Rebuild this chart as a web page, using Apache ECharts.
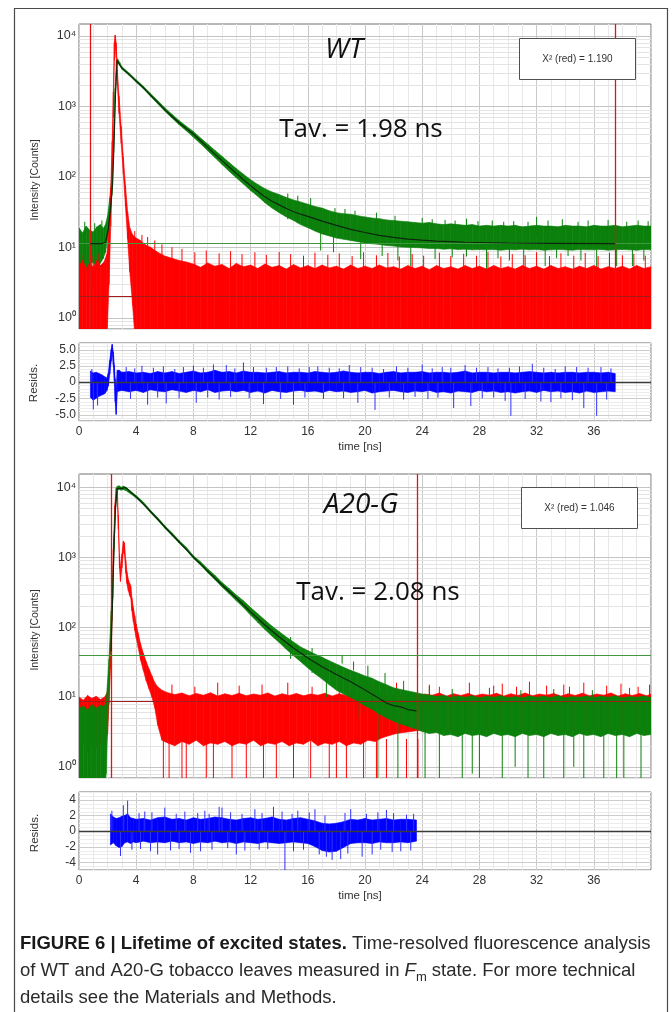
<!DOCTYPE html>
<html><head><meta charset="utf-8">
<script src="https://cdn.jsdelivr.net/npm/echarts@6/dist/echarts.min.js"></script>
<style>html,body{margin:0;padding:0;background:#fff}#c{width:672px;height:1012px}</style>
</head><body><div id="c"></div>
<script>
// ---------------- data (counts / residuals) ----------------
const xTicks = [0, 4, 8, 12, 16, 20, 24, 28, 32, 36];
const logTicks = [0, 1, 2, 3, 4];              // decades 10^0 .. 10^4
const minorFactors = [2, 3, 4, 5, 6, 7, 8, 9];
const res1Ticks = [-5, -2.5, 0, 2.5, 5];
const res2Ticks = [-4, -2, 0, 2, 4];

// WT: fitted decay [t (ns), counts]
const wtFit = [[0.77,11.3],[1.6,11.3],[1.85,11.8],[2.05,18],[2.2,35],[2.35,80],[2.45,300],[2.55,1500],[2.67,4500],[2.8,4000],[3.0,3500],[3.5,2850],[4,2290],[4.5,1850],[5,1450],[5.5,1140],[6,900],[6.5,720],[7,585],[7.5,485],[8,405],[8.5,325],[9,262],[9.5,210],[10,170],[10.5,138],[11,112],[11.5,91],[12,75],[12.5,62],[13,52],[13.5,45],[14,40],[14.5,35.5],[15,32],[15.5,29.5],[16,27.5],[17,23.5],[18,20.5],[19,18],[20,16.2],[21,14.8],[22,13.8],[23,13.1],[24,12.6],[25,12.2],[26,12],[27,11.8],[28,11.7],[30,11.5],[33,11.4],[37.5,11.3]];
// WT: measured decay, noise envelope [t, low, high]
const wtGreen = [[0.0,5.2,19],[0.25,6.5,16],[0.5,4.6,20],[0.75,5.8,17.5],[1.0,6.2,16.5],[1.25,4.8,19.5],[1.5,6,21],[1.7,7,18.5],[1.85,8.5,21],[2.0,13,28],[2.15,24,50],[2.3,55,105],[2.42,220,420],[2.52,1100,1800],[2.62,3600,4500],[2.7,4300,4750],[2.85,3850,4200],[3.0,3380,3650],[3.5,2760,2990],[4.0,2200,2390],[4.5,1780,1940],[5.0,1390,1530],[5.5,1090,1210],[6.0,855,960],[6.5,685,775],[7.0,550,630],[7.5,452,525],[8.0,365,440],[8.5,295,357],[9.0,235,292],[9.5,188,238],[10.0,150,196],[10.5,120,160],[11.0,97,131],[11.5,79,109],[12.0,64,91],[12.5,53,78],[13.0,43,68],[13.5,36,61],[14.0,31,56],[14.5,27,51],[15.0,24,47],[15.5,21,44],[16.0,19,41],[16.5,17,38],[17.0,15.5,36],[17.5,14.5,33],[18.0,13.5,31],[18.5,13,30],[19.0,12.5,29.5],[19.5,12,28],[20.0,11.5,27],[20.5,11.2,26],[21.0,11,25.5],[21.5,10.6,24.5],[22.0,10.4,24],[22.5,10.1,23.5],[23.0,10,23],[23.5,9.9,22.5],[24.0,9.8,22],[24.5,9.6,22.5],[25.0,9.6,21.5],[25.5,9.4,21],[26.0,9.5,21.5],[26.5,9.3,21],[27.0,9.4,20.5],[27.5,9.2,21],[28.0,9.3,20],[28.5,9.2,20.5],[29.0,9.3,20],[29.5,9.1,20.5],[30.0,9.3,20],[30.5,9.2,20.5],[31.0,9.4,19.5],[31.5,9.2,20],[32.0,9.3,20.5],[32.5,9.1,20],[33.0,9.2,20],[33.5,9.3,19.5],[34.0,9.2,20.5],[34.5,9.1,20],[35.0,9.3,20],[35.5,9.2,19.5],[36.0,9.2,20.5],[36.5,9.3,20],[37.0,9.1,20],[37.5,9.2,20.5],[38.0,9.3,19.5],[38.5,9.2,20],[39.0,9.1,20.5],[39.5,9.3,20],[40.0,9.2,20]];
const wtGreenSpikes = [[0.2,3.5,6.5],[0.4,10,23],[0.7,3,6],[1.0,2.5,7],[1.1,10,22],[1.4,3.2,6],[1.6,10,24],[14.6,25,58],[15.3,22,54],[16.2,20,50],[16.9,9,16],[17.8,8.5,15],[17.9,20,36],[18.6,20,35],[19.3,18,33],[19.7,6.8,13],[20.8,18,31],[21.2,7.5,12],[22.1,16,28],[22.3,6.5,12],[23.2,5.4,11],[24.0,16,26],[24.7,15,25],[24.9,6.8,11],[25.6,15,24.5],[26.1,7.2,10.5],[26.3,15,24],[27.1,7.4,25.5],[27.9,14,23.5],[28.5,2.3,10],[28.9,14,24],[29.3,7,10],[29.7,14,23],[30.1,6.5,10],[30.4,14,23.5],[31.1,2.3,10],[31.4,14,23],[32.0,14,27],[32.6,5.4,10],[32.8,14,24],[33.4,7,10],[33.8,14,25],[34.2,7.5,10],[34.9,14,23],[35.1,6.5,10],[35.6,14,24],[36.2,4.4,10],[37.0,14,24.5],[37.6,5.4,10],[38.3,14,23],[38.7,5.4,10],[39.1,14,24],[39.5,6.5,10],[39.8,14,23.5]];
// WT: instrument response (red)
const wtRed = [[0.0,0,5.5],[0.25,0,6.5],[0.5,0,5],[0.75,0,6],[1.0,0,5.2],[1.25,0,6.5],[1.5,0,5.5],[1.75,0,6.2],[1.95,0.5,8],[2.1,3,18],[2.22,20,70],[2.32,110,320],[2.4,700,1600],[2.47,4500,8000],[2.53,7500,10300],[2.6,5000,8000],[2.68,2000,3300],[2.8,800,1400],[2.95,300,520],[3.1,110,190],[3.25,38,75],[3.4,13,32],[3.55,4.5,19],[3.75,1.5,15],[4.0,0,13.5],[4.3,0,12.5],[4.6,0,11],[5.0,0,10],[5.5,0,8.5],[6.0,0,7.5],[6.5,0,7],[7.0,0,6.5],[7.5,0,6.2],[8.0,0,5.8],[8.5,0,5.2],[9.0,0,6.0],[9.5,0,5.4],[10.0,0,5.7],[10.5,0,5.0],[11.0,0,5.9],[11.5,0,5.3],[12.0,0,5.6],[12.5,0,5.0],[13.0,0,5.8],[13.5,0,5.2],[14.0,0,5.5],[14.5,0,4.9],[15.0,0,5.7],[15.5,0,5.1],[16.0,0,5.5],[16.5,0,5.0],[17.0,0,5.6],[17.5,0,5.1],[18.0,0,5.4],[18.5,0,4.9],[19.0,0,5.6],[19.5,0,5.0],[20.0,0,5.4],[20.5,0,5.0],[21.0,0,5.6],[21.5,0,5.1],[22.0,0,5.3],[22.5,0,4.9],[23.0,0,5.5],[23.5,0,5.0],[24.0,0,5.4],[24.5,0,4.8],[25.0,0,5.5],[25.5,0,5.0],[26.0,0,5.3],[26.5,0,4.9],[27.0,0,5.5],[27.5,0,5.0],[28.0,0,5.4],[28.5,0,4.9],[29.0,0,5.5],[29.5,0,5.0],[30.0,0,5.3],[30.5,0,4.9],[31.0,0,5.5],[31.5,0,5.0],[32.0,0,5.4],[32.5,0,4.9],[33.0,0,5.5],[33.5,0,5.0],[34.0,0,5.3],[34.5,0,4.9],[35.0,0,5.4],[35.5,0,5.0],[36.0,0,5.5],[36.5,0,4.9],[37.0,0,5.3],[37.5,0,5.0],[38.0,0,5.4],[38.5,0,4.9],[39.0,0,5.5],[39.5,0,5.0],[40.0,0,5.3]];
const wtRedSpikes = [[0.3,4,8],[0.9,4,7.5],[1.4,4,8.2],[3.9,5,17],[4.4,5,15],[4.8,5,14],[5.3,5,12.5],[5.8,5,11],[6.5,5,10],[7.2,5,9.5],[8.1,5,8.5],[8.9,5,9],[9.8,5,8.2],[10.6,5,8.8],[11.4,5,8],[12.3,5,8.5],[13.1,5,7.8],[14,5,8.6],[14.8,5,8],[15.7,5,7.6],[16.5,5,8.4],[17.4,5,7.8],[18.2,5,8.2],[19.1,5,7.5],[19.9,5,8.5],[20.8,5,7.7],[21.6,5,8.3],[22.4,5,7.4],[23.3,5,8],[24.1,5,7.6],[25.2,5,8.4],[26,5,7.5],[26.9,5,8.1],[27.8,5,7.6],[28.6,5,8.6],[29.5,5,7.4],[30.3,5,8],[31.2,5,7.7],[32,5,8.5],[32.9,5,7.5],[33.7,5,8.2],[34.6,5,7.6],[35.4,5,8.3],[36.3,5,7.5],[37.1,5,8.4],[38,5,7.7],[38.8,5,8.1],[39.6,5,7.6]];
// WT residuals [t, low, high]
const wtRes = [[0.8,-2.4,1.7],[1.0,-2.8,1.4],[1.2,-2.5,1.5],[1.4,-2.2,1.3],[1.6,-2.0,1.1],[1.8,-1.8,0.8],[1.95,-1.3,0.6],[2.05,-0.6,1.4],[2.15,1.2,3.3],[2.25,3.2,5.0],[2.32,4.6,5.8],[2.4,2.6,4.6],[2.47,0.2,2.6],[2.53,-3.0,0.5],[2.6,-5.0,-1.0],[2.68,-1.5,1.8],[2.8,-1.4,1.8],[3.0,-1.3,1.5],[3.5,-1.5,1.6],[4.0,-1.3,1.4],[4.5,-1.6,1.5],[5.0,-1.2,1.3],[5.5,-1.4,1.6],[6.0,-1.5,1.4],[6.5,-1.2,1.6],[7.0,-1.4,1.3],[7.5,-1.6,1.5],[8.0,-1.3,1.7],[8.5,-1.5,1.4],[9.0,-1.2,1.5],[9.5,-1.6,1.8],[10.0,-1.4,1.5],[10.5,-1.3,1.6],[11.0,-1.5,1.4],[11.5,-1.3,1.7],[12.0,-1.6,1.5],[12.5,-1.4,1.5],[13.0,-1.7,1.4],[13.5,-1.3,1.5],[14.0,-1.5,1.6],[14.5,-1.6,1.4],[15.0,-1.4,1.5],[15.5,-1.3,1.5],[16.0,-1.5,1.4],[16.5,-1.4,1.6],[17.0,-1.6,1.5],[17.5,-1.3,1.4],[18.0,-1.5,1.5],[18.5,-1.4,1.7],[19.0,-1.6,1.5],[19.5,-1.5,1.4],[20.0,-1.3,1.5],[20.5,-1.7,1.5],[21.0,-1.5,1.3],[21.5,-1.4,1.5],[22.0,-1.3,1.6],[22.5,-1.5,1.4],[23.0,-1.6,1.5],[23.5,-1.4,1.5],[24.0,-1.5,1.6],[24.5,-1.3,1.4],[25.0,-1.6,1.5],[25.5,-1.5,1.5],[26.0,-1.7,1.4],[26.5,-1.4,1.5],[27.0,-1.5,1.7],[27.5,-1.6,1.4],[28.0,-1.3,1.5],[28.5,-1.5,1.5],[29.0,-1.4,1.4],[29.5,-1.6,1.5],[30.0,-1.5,1.5],[30.5,-1.7,1.4],[31.0,-1.5,1.5],[31.5,-1.4,1.6],[32.0,-1.6,1.5],[32.5,-1.3,1.4],[33.0,-1.5,1.5],[33.5,-1.4,1.4],[34.0,-1.6,1.5],[34.5,-1.5,1.5],[35.0,-1.7,1.4],[35.5,-1.4,1.5],[36.0,-1.6,1.5],[36.5,-1.5,1.4],[37.0,-1.4,1.5],[37.5,-1.5,1.3]];
const wtResSpikes = [[1.0,-4.2,0],[1.3,-3.6,0],[0.9,0,2.0],[3.3,0,2.3],[3.6,-2.6,0],[3.9,0,2.1],[4.4,0,2.5],[4.8,-3.5,0],[5.2,0,2.2],[5.5,-2.4,0],[5.9,0,2.4],[6.1,-3.3,0],[6.7,0,2.0],[7.0,-2.5,0],[7.3,0,2.3],[8.0,0,2.5],[8.2,-3.2,0],[8.7,0,2.2],[9.0,-2.4,0],[9.4,0,2.7],[9.8,-2.7,0],[10.3,0,2.6],[10.6,-2.3,0],[10.9,0,2.1],[11.5,0,3.0],[11.9,-2.5,0],[12.2,0,2.3],[12.9,-3.4,0],[13.1,0,2.2],[13.8,0,2.3],[14.1,-2.6,0],[14.6,0,2.4],[15.0,-3.5,0],[15.4,0,2.1],[15.8,-2.4,0],[16.1,0,2.3],[16.7,0,2.4],[17.1,-2.6,0],[17.5,0,2.2],[18.2,0,2.1],[18.5,-2.5,0],[18.9,0,2.6],[19.5,-3.2,0],[19.7,0,2.3],[20.5,0,2.2],[20.7,-4.3,0],[21.3,0,2.0],[21.7,-2.4,0],[22.2,0,2.4],[22.7,-2.7,0],[23.0,0,2.2],[23.5,-2.3,0],[24.0,0,2.7],[24.4,-2.6,0],[24.7,0,2.1],[25.1,-2.4,0],[25.4,0,2.3],[26.0,0,2.2],[26.2,-4.0,0],[27.0,0,2.6],[27.4,-3.7,0],[27.8,0,2.2],[28.2,-2.5,0],[28.6,0,2.3],[29.0,-2.4,0],[29.3,0,2.1],[29.8,-2.9,0],[30.1,0,2.2],[30.2,-5.2,0],[30.8,0,2.4],[31.2,-2.6,0],[31.7,0,2.8],[32.3,-3.0,0],[32.5,0,2.2],[33.0,-3.1,0],[33.3,0,2.0],[33.7,-2.5,0],[34.0,0,2.4],[34.5,-2.8,0],[34.8,0,2.3],[35.3,-4.0,0],[35.6,0,2.2],[36.2,-5.2,0],[36.5,0,2.3],[36.9,-2.7,0],[37.2,0,2.1]];

// A20-G
const a20Fit = [[2.24,45],[2.36,300],[2.45,1500],[2.55,5000],[2.66,9500],[2.75,10000],[2.9,9700],[3.05,9600],[3.2,10000],[3.35,9600],[4,7300],[5,4500],[6,2700],[7,1650],[8,1000],[9,630],[10,400],[11,260],[12,165],[13,107],[14,72],[15,50],[16,36],[17,27],[18,21],[19,16.5],[20,12.6],[21,9.5],[21.5,8.2],[22,7.5],[22.5,7.2],[23,6.6],[23.6,6.3]];
const a20Green = [[0,0,6.8],[0.3,0,7.5],[0.6,0,6.5],[0.9,0,7.8],[1.2,0,6.9],[1.5,0,7.6],[1.75,0,7.2],[1.9,0.8,8.5],[2.1,16,35],[2.25,90,170],[2.36,260,400],[2.45,1300,1900],[2.55,4600,6000],[2.66,9000,10300],[2.8,9400,10500],[2.95,9100,10000],[3.1,9300,10400],[3.3,8900,9900],[3.6,8100,8800],[4.0,7000,7600],[4.5,5700,6150],[5.0,4330,4680],[5.5,3400,3680],[6.0,2600,2820],[6.5,2050,2240],[7.0,1590,1730],[7.5,1270,1390],[8.0,960,1050],[8.5,775,860],[9.0,600,680],[9.5,478,552],[10.0,375,435],[10.5,300,355],[11.0,238,287],[11.5,190,238],[12.0,148,190],[12.5,117,155],[13.0,92,126],[13.5,74,103],[14.0,60,86],[14.5,48,72],[15.0,39,61],[15.5,32,52],[16.0,26,46],[16.5,21.5,41],[17.0,18,37],[17.5,15,33],[18.0,12.5,29.5],[18.5,11,26.5],[19.0,9.8,24],[19.5,8.6,22],[20.0,7.5,20],[20.5,6.6,18.5],[21.0,5.7,16.5],[21.5,5,15],[22.0,4.5,13.5],[22.5,4.1,12.8],[23.0,3.8,12.2],[23.5,3.5,11.6],[24.0,3.2,11],[24.5,3,10.6],[25,3.1,10.2],[25.5,2.8,10.5],[26,2.9,9.8],[26.5,2.7,10.3],[27,3,9.9],[27.5,2.8,10.4],[28,2.9,9.7],[28.5,2.7,10.2],[29,3,9.9],[29.5,2.8,10.4],[30,2.9,9.8],[30.5,2.7,10.1],[31,3,9.7],[31.5,2.8,10.3],[32,2.9,9.9],[32.5,2.7,10.2],[33,3,9.8],[33.5,2.8,10.4],[34,2.9,9.7],[34.5,2.7,10.1],[35,3,9.9],[35.5,2.8,10.3],[36,2.9,9.8],[36.5,2.7,10.2],[37,3,9.9],[37.5,2.8,10.4],[38,2.9,9.7],[38.5,2.7,10.1],[39,3,9.9],[39.5,2.8,10.3],[40,2.9,9.8]];
const a20GreenSpikes = [[0.15,0,1],[0.45,0,1],[0.8,0,1],[1.3,0,1],[1.6,0,1],[14.8,35,72],[16.3,22,50],[17.3,10,20],[18.4,30,40],[19.2,24,32],[19.6,5,10],[20.2,19,28],[20.9,0,6],[21.4,15,22],[22.3,0,4.5],[22.7,12,17],[24.2,0,3.2],[24.5,10,14],[25.2,0,3.1],[26.1,10,13],[26.8,0,3],[27.5,0.8,3],[28,0,3],[28.7,10,13.5],[29.6,0,3],[30.5,1,3],[30.9,10,12.5],[31.4,0,3],[32.5,0,3],[33.2,10,13],[33.9,0,3],[34.6,1,3],[35.3,0,3],[35.9,10,12.5],[36.7,0,3],[37.6,0,3],[38.1,0,3],[38.5,10,13.5],[39.3,0,3]];
const a20Red = [[0,1.9,10],[0.3,2.2,9],[0.6,1.6,10.5],[0.9,2.1,9.5],[1.2,1.8,10.2],[1.5,2.2,9.2],[1.8,2.1,10],[2.0,3,12],[2.1,8,22],[2.2,25,60],[2.3,120,250],[2.4,700,1300],[2.5,3500,5500],[2.6,7500,9800],[2.68,6500,9000],[2.75,2500,4000],[2.83,700,1100],[2.9,450,700],[3.0,700,1100],[3.1,1200,1700],[3.18,1100,1600],[3.27,600,900],[3.35,420,620],[3.45,330,480],[3.55,280,420],[3.62,260,380],[3.7,170,260],[3.8,120,190],[3.9,90,145],[4.0,70,110],[4.15,50,80],[4.3,34,58],[4.5,24,42],[4.7,17,32],[4.9,13,25],[5.1,10,20],[5.3,7,16],[5.5,4,14],[5.8,2.4,12.5],[6.2,2.2,11.5],[6.7,2.0,10.8],[7.2,2.3,11.4],[7.7,2.1,10.4],[8.2,2.4,11.2],[8.7,2.0,10.6],[9.2,2.2,11.5],[9.7,2.1,10.3],[10.2,2.3,11.1],[10.7,2.0,10.5],[11.2,2.2,11.3],[11.7,2.1,10.4],[12.2,2.4,11],[12.7,2.0,10.6],[13.2,2.2,11.4],[13.7,2.1,10.3],[14.2,2.3,11.1],[14.7,2.0,10.5],[15.2,2.2,11.2],[15.7,2.1,10.4],[16.2,2.4,11],[16.7,2.0,10.6],[17.2,2.2,11.3],[17.7,2.1,10.3],[18.2,2.3,11.1],[18.7,2.0,10.5],[19.2,2.2,11.4],[19.7,2.1,10.4],[20.2,2.4,11],[20.7,2.3,10.6],[21.2,2.6,11.2],[21.7,2.8,10.3],[22.2,3.0,11.1],[22.7,3.1,10.5],[23.2,3.2,11.3],[23.7,3.3,10.4],[24.2,3.4,11],[24.7,3.3,10.6],[25.2,3.4,11.4],[25.7,3.3,10.3],[26.2,3.4,11.1],[26.7,3.3,10.5],[27.2,3.4,11.2],[27.7,3.3,10.4],[28.2,3.4,11],[28.7,3.3,10.6],[29.2,3.4,11.3],[29.7,3.3,10.3],[30.2,3.4,11.1],[30.7,3.3,10.5],[31.2,3.4,11.4],[31.7,3.3,10.4],[32.2,3.4,11],[32.7,3.3,10.6],[33.2,3.4,11.2],[33.7,3.3,10.3],[34.2,3.4,11.1],[34.7,3.3,10.5],[35.2,3.4,11.3],[35.7,3.3,10.4],[36.2,3.4,11],[36.7,3.3,10.6],[37.2,3.4,11.4],[37.7,3.3,10.3],[38.2,3.4,11.1],[38.7,3.3,10.5],[39.2,3.4,11.2],[39.7,3.3,10.4],[40,3.4,11]];
const a20RedSpikes = [[0.4,0,2],[1.0,0,2],[5.9,0,2.5],[6.3,0,2.5],[6.5,10,15],[7.2,0,2.5],[7.5,0,2.5],[8.1,10,14],[8.9,0,2.5],[9.4,0,2.5],[9.7,10,16],[10.7,0,2.5],[11.2,10,14.5],[11.7,0,2.5],[12.8,10,15],[12.9,0,2.5],[13.8,0,2.5],[14.6,10,16],[15,0,2.5],[16.2,0,2.5],[16.3,10,14],[17.5,0,2.5],[18,0,2.5],[18.2,10,17],[18.7,0,2.5],[19.9,0,2.5],[20.5,10,15],[20.8,0,2.5],[21.5,0,2.5],[22.2,10,16],[22.9,0,2.5],[23.7,0,2.5],[24.5,10,15],[25.2,10,14],[27.3,10,16],[29,10,14.5],[29.6,10,15.5],[30.6,10,14],[31.5,10,16.5],[32.7,10,14.5],[33.9,10,15],[34.3,10,14],[35.3,10,16],[36.9,10,14.5],[37.9,10,15.5],[39.1,10,14],[39.9,10,15]];
const a20Res = [[2.2,-1.8,2.2],[2.4,-1.5,1.8],[2.6,-1.9,1.6],[2.8,-2.1,1.7],[3.0,-2.0,1.9],[3.2,-1.5,2.0],[3.4,-1.4,2.2],[3.6,-1.6,1.7],[3.8,-1.4,1.6],[4.0,-1.5,1.5],[4.5,-1.3,1.6],[5.0,-1.5,1.4],[5.5,-1.4,1.7],[6.0,-1.5,1.8],[6.5,-1.3,1.5],[7.0,-1.5,1.6],[7.5,-1.4,1.4],[8.0,-1.6,1.7],[8.5,-1.4,1.5],[9.0,-1.5,1.6],[9.5,-1.3,1.8],[10.0,-1.5,1.7],[10.5,-1.4,1.5],[11.0,-1.6,1.4],[11.5,-1.4,1.6],[12.0,-1.5,1.7],[12.5,-1.6,1.5],[13.0,-1.4,1.6],[13.5,-1.5,1.8],[14.0,-1.6,1.5],[14.5,-1.5,1.4],[15.0,-1.4,1.6],[15.5,-1.5,1.7],[16.0,-1.6,1.5],[16.5,-2.0,1.3],[17.0,-2.5,1.0],[17.5,-2.7,0.9],[18.0,-2.6,1.0],[18.5,-2.1,1.2],[19.0,-1.6,1.5],[19.5,-1.5,1.4],[20.0,-1.5,1.6],[20.5,-1.6,1.4],[21.0,-1.4,1.5],[21.5,-1.5,1.6],[22.0,-1.5,1.4],[22.5,-1.4,1.5],[23.0,-1.5,1.5],[23.6,-1.3,1.4]];
const a20ResSpikes = [[2.3,0,2.6],[2.9,-3.2,0],[3.1,0,3.3],[3.4,0,3.9],[3.7,-2.4,0],[4.2,0,2.3],[4.3,-2.3,0],[4.6,0,2.5],[5.0,-2.6,0],[5.1,0,2.4],[5.5,-3.0,0],[6.0,0,3.0],[6.4,-2.5,0],[6.8,0,2.2],[7.0,-2.3,0],[7.4,0,2.5],[7.8,-2.8,0],[8.3,0,2.3],[8.5,-2.6,0],[8.8,0,2.6],[9.1,0,2.2],[9.3,-2.4,0],[9.8,0,3.1],[10.0,0,3.0],[10.4,-2.2,0],[10.6,0,2.4],[11.0,-3.0,0],[11.4,0,2.2],[11.6,-2.5,0],[12.3,0,2.8],[12.6,-2.4,0],[12.8,0,2.3],[13.2,-2.3,0],[13.6,0,3.1],[14.2,0,2.5],[14.4,-5.2,0],[14.9,0,2.2],[15.0,-2.6,0],[15.3,0,2.6],[15.7,-2.4,0],[16.1,0,2.4],[16.5,0,2.8],[16.8,-3.0,0],[17.2,0,2.0],[17.3,-3.3,0],[17.7,-3.7,0],[18.3,-3.6,0],[18.6,0,2.3],[18.8,-2.9,0],[19.0,0,2.8],[19.8,-3.3,0],[20.1,0,2.2],[20.5,-3.0,0],[20.9,0,2.4],[21.1,-2.4,0],[21.5,0,2.7],[21.9,-2.7,0],[22.0,0,2.3],[22.5,-2.6,0],[22.9,0,2.1],[23.2,-2.5,0],[23.4,0,2.2]];

// fit windows / reference levels
const wtWindow = [0.77, 37.5];
const wtLevels = { green: 11.4, red: 2.0 };
const a20Window = [2.24, 23.66];
const a20Levels = { green: 39.6, red: 8.8 };

// ---------------- chart ----------------
const FF = '"Liberation Sans", Arial, Helvetica, sans-serif';
const FLOOR = 0.3;
const lg = v => Math.log10(Math.max(v, FLOOR));
const logBand = a => a.map(r => [r[0], lg(r[1]), lg(r[2])]);
const logLine = a => a.map(r => [r[0], lg(r[1])]);
const LOGMIN = -0.16, LOGMAX1 = 4.17, LOGMAX2 = 4.19;

const GREEN = '#0b800b', RED = '#ff0000', BLUE = '#0000ff', FITC = '#0d260d';
const WINDOW_RED = '#e01414', LEVEL_GREEN = '#3f983f', LEVEL_RED = '#a31c1c';

function band(data, ax, color, z) {
  return { type: 'custom', xAxisIndex: ax, yAxisIndex: ax, z, clip: true, silent: true,
    encode: { x: 0, y: [1, 2] }, data,
    renderItem(params, api) {
      const i = params.dataIndexInside;
      if (i >= params.dataInsideLength - 1) return null;
      const p = [api.coord([api.value(0, i), api.value(1, i)]), api.coord([api.value(0, i), api.value(2, i)]),
                 api.coord([api.value(0, i + 1), api.value(2, i + 1)]), api.coord([api.value(0, i + 1), api.value(1, i + 1)])];
      return { type: 'polygon', shape: { points: p }, style: { fill: color, stroke: color, lineWidth: 0.6 } };
    } };
}
function spikes(data, ax, color, z, w) {
  return { type: 'custom', xAxisIndex: ax, yAxisIndex: ax, z, clip: true, silent: true,
    encode: { x: 0, y: [1, 2] }, data,
    renderItem(params, api) {
      const a = api.coord([api.value(0), api.value(1)]), b = api.coord([api.value(0), api.value(2)]);
      return { type: 'line', shape: { x1: a[0], y1: a[1], x2: b[0], y2: b[1] }, style: { stroke: color, lineWidth: w } };
    } };
}
function hLines(values, ax, color, w, z) {
  return { type: 'custom', xAxisIndex: ax, yAxisIndex: ax, z, silent: true,
    encode: { x: 0, y: 1 }, data: values.map(v => [0, v]),
    renderItem(params, api) {
      const cs = params.coordSys; const y = Math.round(api.coord([0, api.value(1)])[1]) + 0.5;
      return { type: 'line', shape: { x1: cs.x, y1: y, x2: cs.x + cs.width, y2: y }, style: { stroke: color, lineWidth: w } };
    } };
}
// fit curve; the fit window (vertical) and the reference levels (horizontal) are markLines on it
function fitLine(data, ax, win, levels) {
  const ml = (o, c, w) => Object.assign(o, { lineStyle: { color: c, width: w, type: 'solid', opacity: 1 } });
  return { type: 'line', xAxisIndex: ax, yAxisIndex: ax, z: 8, data: logLine(data), showSymbol: false, silent: true,
    lineStyle: { color: FITC, width: 1.2 },
    markLine: { silent: true, symbol: ['none', 'none'], label: { show: false }, animation: false,
      emphasis: { disabled: true },
      data: [ml({ xAxis: win[0] }, WINDOW_RED, 1.3), ml({ xAxis: win[1] }, WINDOW_RED, 1.3),
             ml({ yAxis: lg(levels.green) }, LEVEL_GREEN, 1.2), ml({ yAxis: lg(levels.red) }, LEVEL_RED, 1)] } };
}
function logMinor(maxv) {
  const out = [];
  for (let d = -1; d <= 4; d++) for (const f of minorFactors) { const v = d + Math.log10(f); if (v > LOGMIN && v < maxv) out.push(v); }
  return out;
}
function steps(min, max, s) { const out = []; for (let v = min; v <= max + 1e-9; v += s) out.push(+v.toFixed(4)); return out; }

const sup = ['\u2070', '\u00b9', '\u00b2', '\u00b3', '\u2074'];
const grids = [
  { left: 79, top: 24, width: 572, height: 305 },
  { left: 79, top: 343, width: 572, height: 78 },
  { left: 79, top: 474, width: 572, height: 304 },
  { left: 79, top: 792, width: 572, height: 78 }
].map(g => Object.assign(g, { show: true, borderColor: '#707070', borderWidth: 1, backgroundColor: '#fff', containLabel: false, outerBoundsMode: 'none' }));

const xAxes = [0, 1, 2, 3].map(i => ({
  type: 'value', gridIndex: i, min: 0, max: 40, interval: 4,
  axisLine: { show: false }, axisTick: { show: false },
  axisLabel: { show: i === 1 || i === 3, showMaxLabel: false, fontSize: 12, color: '#333', margin: 5, fontFamily: FF },
  splitLine: { show: true, lineStyle: { color: '#c9c9c9', width: 1 } },
  minorTick: { show: false, splitNumber: 4 },
  minorSplitLine: { show: true, lineStyle: { color: '#e8e8e8', width: 1 } }
}));
const logLabel = {
  customValues: logTicks, formatter: v => '10' + sup[v], fontSize: 12.5, color: '#333', margin: 3, fontFamily: FF
};
const yAxes = [
  { type: 'value', gridIndex: 0, min: LOGMIN, max: LOGMAX1, axisLabel: logLabel },
  { type: 'value', gridIndex: 1, min: -6, max: 6, axisLabel: { customValues: res1Ticks, formatter: v => v === 0 ? '0' : v.toFixed(1), fontSize: 12, color: '#333', margin: 3, fontFamily: FF } },
  { type: 'value', gridIndex: 2, min: LOGMIN, max: LOGMAX2, axisLabel: logLabel },
  { type: 'value', gridIndex: 3, min: -5, max: 5, axisLabel: { customValues: res2Ticks, formatter: v => String(v), fontSize: 12, color: '#333', margin: 3, fontFamily: FF } }
].map(a => Object.assign(a, { axisLine: { show: false }, axisTick: { show: false }, splitLine: { show: false } }));

const series = [
  // grid lines
  hLines(logMinor(LOGMAX1), 0, '#e3e3e3', 1, 1), hLines(logTicks, 0, '#c4c4c4', 1, 1),
  hLines(steps(-6, 6, 0.5), 1, '#ececec', 1, 1), hLines(res1Ticks, 1, '#cdcdcd', 1, 1),
  hLines(logMinor(LOGMAX2), 2, '#e3e3e3', 1, 1), hLines(logTicks, 2, '#c4c4c4', 1, 1),
  hLines(steps(-5, 5, 0.5), 3, '#ececec', 1, 1), hLines(res2Ticks, 3, '#cdcdcd', 1, 1),
  // WT
  band(logBand(wtGreen), 0, GREEN, 3), spikes(logBand(wtGreenSpikes), 0, GREEN, 3, 1),
  band(logBand(wtRed), 0, RED, 4), spikes(logBand(wtRedSpikes), 0, RED, 4, 1),
  fitLine(wtFit, 0, wtWindow, wtLevels),
  band(wtRes, 1, BLUE, 3), spikes(wtResSpikes, 1, '#3030ff', 3, 1),
  hLines([0], 1, '#3a3a3a', 1.6, 6),
  // A20-G
  band(logBand(a20Red), 2, RED, 3), spikes(logBand(a20RedSpikes), 2, RED, 3, 1),
  band(logBand(a20Green), 2, GREEN, 4), spikes(logBand(a20GreenSpikes), 2, GREEN, 4, 1),
  fitLine(a20Fit, 2, a20Window, a20Levels),
  band(a20Res, 3, BLUE, 3), spikes(a20ResSpikes, 3, '#3030ff', 3, 1),
  hLines([0], 3, '#3a3a3a', 1.6, 6)
];

const txt = (x, y, text, font, extra) => ({ type: 'text', x, y, z: 100, silent: true,
  style: Object.assign({ text, font, fill: '#111', align: 'center', verticalAlign: 'middle' }, extra || {}) });
const capFont = 18.5;
const graphic = [
  { type: 'rect', z: 100, silent: true, shape: { x: 14.5, y: 8.5, width: 653, height: 1010 }, style: { fill: 'none', stroke: '#4a4a4a', lineWidth: 1.2 } },
  txt(344, 50, 'WT', 'italic 28px "Open Sans", "Noto Sans", sans-serif'),
  txt(361, 130, 'Tav. = 1.98 ns', '26px "Open Sans", "Noto Sans", sans-serif'),
  txt(361, 505, 'A20-G', 'italic 28px "Open Sans", "Noto Sans", sans-serif'),
  txt(378, 593, 'Tav. = 2.08 ns', '26px "Open Sans", "Noto Sans", sans-serif'),
  { type: 'rect', z: 99, silent: true, shape: { x: 519.5, y: 38.5, width: 116, height: 41 }, style: { fill: '#fff', stroke: '#505050', lineWidth: 1 } },
  txt(577.5, 59, 'X\u00b2 (red) = 1.190', '10px ' + FF, { fill: '#333' }),
  { type: 'rect', z: 99, silent: true, shape: { x: 521.5, y: 487.5, width: 116, height: 41 }, style: { fill: '#fff', stroke: '#505050', lineWidth: 1 } },
  txt(579.5, 508, 'X\u00b2 (red) = 1.046', '10px ' + FF, { fill: '#333' }),
  Object.assign(txt(35, 180, 'Intensity [Counts]', '10.5px ' + FF, { fill: '#333' }), { rotation: Math.PI / 2 }),
  Object.assign(txt(35, 630, 'Intensity [Counts]', '10.5px ' + FF, { fill: '#333' }), { rotation: Math.PI / 2 }),
  Object.assign(txt(34, 383, 'Resids.', '11.5px ' + FF, { fill: '#333' }), { rotation: Math.PI / 2 }),
  Object.assign(txt(35, 833, 'Resids.', '11.5px ' + FF, { fill: '#333' }), { rotation: Math.PI / 2 }),
  txt(360, 447, 'time [ns]', '11.5px ' + FF, { fill: '#333' }),
  txt(360, 896, 'time [ns]', '11.5px ' + FF, { fill: '#333' }),
  { type: 'text', x: 20, y: 944, z: 100, silent: true, style: {
      text: '{b|FIGURE 6 | Lifetime of excited states.}{n| Time-resolved fluorescence analysis}',
      verticalAlign: 'middle', align: 'left',
      rich: { b: { fontWeight: 'bold', fontSize: capFont, fontFamily: FF, fill: '#1a1a1a', color: '#1a1a1a' },
              n: { fontSize: capFont, fontFamily: FF, fill: '#2a2a2a', color: '#2a2a2a' } } } },
  { type: 'text', x: 20, y: 971, z: 100, silent: true, style: {
      text: '{n|of WT and A20-G tobacco leaves measured in }{i|F}{s|m}{n| state. For more technical}',
      verticalAlign: 'middle', align: 'left',
      rich: { n: { fontSize: capFont, fontFamily: FF, fill: '#2a2a2a', color: '#2a2a2a', lineHeight: 26, verticalAlign: 'middle' },
              i: { fontSize: capFont, fontStyle: 'italic', fontFamily: FF, fill: '#2a2a2a', color: '#2a2a2a', lineHeight: 26, verticalAlign: 'middle' },
              s: { fontSize: 13, fontFamily: FF, fill: '#2a2a2a', color: '#2a2a2a', lineHeight: 14, verticalAlign: 'bottom' } } } },
  { type: 'text', x: 20, y: 998, z: 100, silent: true, style: {
      text: 'details see the Materials and Methods.', font: capFont + 'px ' + FF, fill: '#2a2a2a', align: 'left', verticalAlign: 'middle' } }
];

const chart = echarts.init(document.getElementById('c'), null, { renderer: 'canvas', width: 672, height: 1012 });
chart.setOption({
  animation: false, backgroundColor: '#fff', textStyle: { fontFamily: FF },
  grid: grids, xAxis: xAxes, yAxis: yAxes, series, graphic
});
</script></body></html>
